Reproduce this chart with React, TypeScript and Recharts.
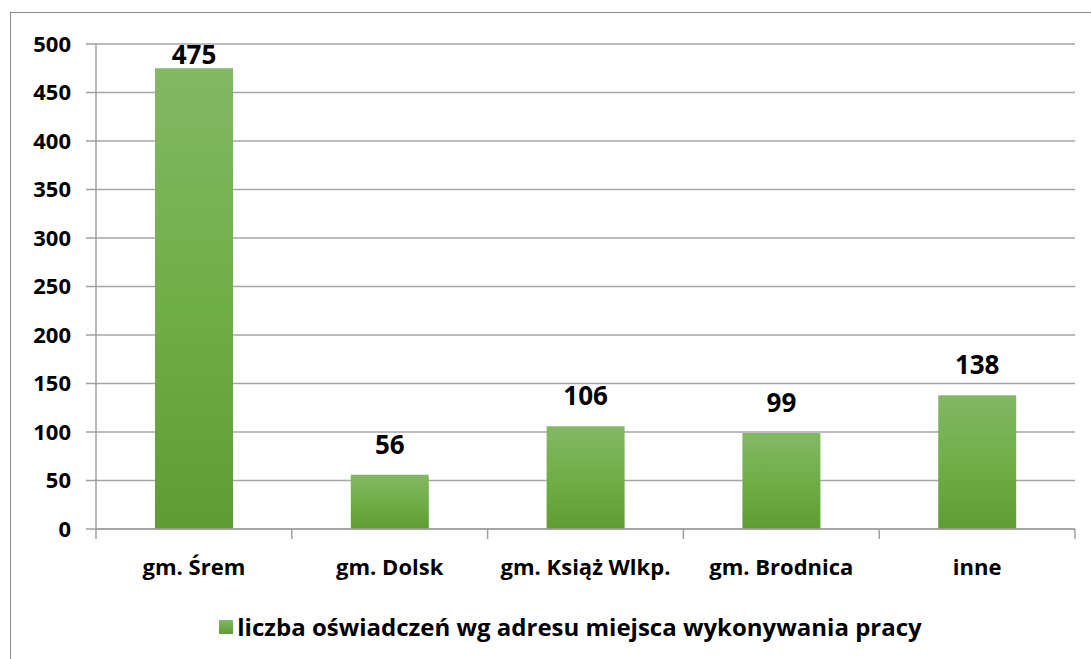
import React from "react";
import { BarChart, Bar, XAxis, YAxis, CartesianGrid, Legend, LabelList } from "recharts";

// categories and values
const categories = ["gm. Śrem", "gm. Dolsk", "gm. Książ Wlkp.", "gm. Brodnica", "inne"];
const counts = [475, 56, 106, 99, 138];
const yTicks = [0, 50, 100, 150, 200, 250, 300, 350, 400, 450, 500];
const seriesName = "liczba oświadczeń wg adresu miejsca wykonywania pracy";

const data = categories.map((name, i) => ({ name, value: counts[i] }));

const FONT = "'Open Sans', sans-serif";
const AXIS_GREY = "#a0a0a0";

// category tick: label plus tick marks at the band boundaries
const CategoryTick = (props: any) => {
    const { x, y, payload, index } = props;
    const half = payload.offset ?? 0;
    const last = index === categories.length - 1;
    return (
        <g>
            <line x1={x - half} x2={x - half} y1={y - 8} y2={y + 2} stroke={AXIS_GREY} strokeWidth={1.5} />
            {last && <line x1={x + half} x2={x + half} y1={y - 8} y2={y + 2} stroke={AXIS_GREY} strokeWidth={1.5} />}
            <text x={x} y={y + 38} textAnchor="middle" fontFamily={FONT} fontWeight={700} fontSize={22} fill="#000">
                {payload.value}
            </text>
        </g>
    );
};

// value label above the bar, kept inside the plot area like the original
const ValueLabel = (props: any) => {
    const { x, y, width, value } = props;
    const top = Math.max(y - 21, 64);
    return (
        <text x={x + width / 2} y={top} textAnchor="middle" fontFamily={FONT} fontWeight={700} fontSize={26} fill="#000">
            {value}
        </text>
    );
};

const LegendContent = () => (
    <div style={{ display: "flex", justifyContent: "center", alignItems: "center", height: 30, marginTop: 22, paddingLeft: 66 }}>
        <div style={{ width: 14, height: 14, background: "linear-gradient(#83b865, #5f9c33)", marginRight: 4, marginTop: 2 }} />
        <span style={{ fontFamily: FONT, fontWeight: 700, fontSize: 24, color: "#000" }}>{seriesName}</span>
    </div>
);

export default function App() {
    return (
        <div style={{ position: "absolute", left: 0, top: 0, width: 1091, height: 659, background: "#fff", overflow: "hidden" }}>
            <div style={{ position: "absolute", left: 10, top: 12, width: 1100, height: 700, borderTop: "1.5px solid #8c8c8c", borderLeft: "1.5px solid #8c8c8c" }} />
            <BarChart
                width={1091}
                height={659}
                data={data}
                margin={{ top: 44, right: 16, left: 0, bottom: 0 }}
                style={{ position: "absolute", left: 0, top: 0 }}
            >
                <defs>
                    <linearGradient id="barGreen" x1="0" y1="0" x2="0" y2="1">
                        <stop offset="0%" stopColor="#83b865" />
                        <stop offset="50%" stopColor="#70ae47" />
                        <stop offset="100%" stopColor="#5f9c33" />
                    </linearGradient>
                </defs>
                <CartesianGrid vertical={false} stroke="#a6a6a6" strokeWidth={1.5} />
                <XAxis
                    dataKey="name"
                    height={60}
                    axisLine={{ stroke: AXIS_GREY, strokeWidth: 1.5 }}
                    tickLine={false}
                    tick={<CategoryTick />}
                    interval={0}
                />
                <YAxis
                    width={96}
                    domain={[0, 500]}
                    ticks={yTicks}
                    interval={0}
                    axisLine={{ stroke: AXIS_GREY, strokeWidth: 1.5 }}
                    tickLine={{ stroke: AXIS_GREY, strokeWidth: 1.5 }}
                    tickSize={10}
                    tickMargin={15}
                    tick={{ fontFamily: FONT, fontWeight: 700, fontSize: 22, fill: "#000" }}
                />
                <Legend verticalAlign="bottom" height={70} content={<LegendContent />} />
                <Bar dataKey="value" name={seriesName} fill="url(#barGreen)" barSize={78} isAnimationActive={false}>
                    <LabelList dataKey="value" content={<ValueLabel />} />
                </Bar>
            </BarChart>
        </div>
    );
}
